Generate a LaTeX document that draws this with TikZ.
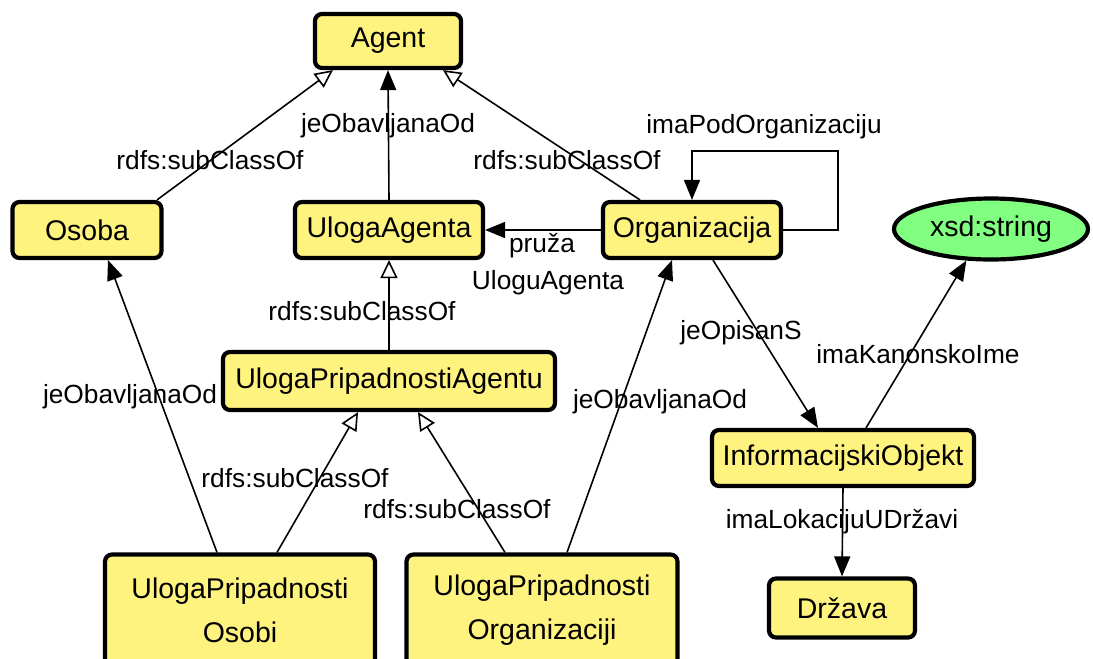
\documentclass[tikz,border=0pt]{standalone}
\usepackage{fontspec}
\setmainfont{Liberation Sans}
\usetikzlibrary{arrows.meta,shapes.geometric,calc}
\definecolor{boxyellow}{RGB}{255,243,128}
\definecolor{ovalgreen}{RGB}{128,255,128}
\begin{document}
\begin{tikzpicture}[x=1pt,y=1pt,
  cls/.style={draw=black,line width=4.2pt,fill=boxyellow,rounded corners=7pt,
    font=\fontsize{28.5}{44}\selectfont,inner sep=0pt,align=center},
  lit/.style={ellipse,draw=black,line width=4.2pt,fill=ovalgreen,
    font=\fontsize{28.5}{34}\selectfont,inner sep=0pt},
  lbl/.style={font=\fontsize{26.3}{30}\selectfont,inner sep=0pt},
  rel/.style={line width=1.6pt,-{Triangle[length=20pt,width=16pt]}},
  sub/.style={line width=1.6pt,-{Triangle[open,length=18pt,width=17pt,line width=1.6pt]}}]
\clip (0,0) rectangle (1093,-659);
% classes
\node[cls,minimum width=146,minimum height=54] (agent) at (388,-41) {Agent};
\node[cls,minimum width=149,minimum height=56] (osoba) at (87,-230) {Osoba};
\node[cls,minimum width=188,minimum height=56] (ua) at (389,-230) {UlogaAgenta};
\node[cls,minimum width=178,minimum height=56] (org) at (692,-230) {Organizacija};
\node[lit,minimum width=194,minimum height=61] (xsd) at (991,-229) {xsd:string};
\node[cls,minimum width=332,minimum height=58] (upa) at (389,-381) {UlogaPripadnostiAgentu};
\node[cls,minimum width=262,minimum height=56] (io) at (843,-458) {InformacijskiObjekt};
\node[cls,minimum width=146,minimum height=59] (drz) at (842,-608) {Država};
\node[cls,minimum width=270,minimum height=111] (upo) at (240,-610) {UlogaPripadnosti\\Osobi};
\node[cls,minimum width=271,minimum height=111] (upor) at (542,-610) {UlogaPripadnosti\\Organizaciji};
% connectors
\draw[sub] ([xshift=70]osoba.north) -- ([xshift=-55]agent.south);
\draw[rel] (ua.north) -- (agent.south);
\draw[sub] ([xshift=-52]org.north) -- ([xshift=55]agent.south);
\draw[rel] (org.west) -- (ua.east);
\draw[rel] (org.east) -- ++(55,0) -- ++(0,79) -| (org.north);
\draw[sub] (upa.north) -- (ua.south);
\draw[rel] ([xshift=-23]upo.north) -- ([xshift=21]osoba.south);
\draw[sub] ([xshift=37]upo.north) -- ([xshift=-31]upa.south);
\draw[sub] ([xshift=-37]upor.north) -- ([xshift=29]upa.south);
\draw[rel] ([xshift=25]upor.north) -- ([xshift=-20]org.south);
\draw[rel] ([xshift=21]org.south) -- ([xshift=-25]io.north);
\draw[rel] ([xshift=23]io.north) -- (xsd.232);
\draw[rel] (io.south) -- (drz.north);
% labels
\node[lbl] (l1) at (388,-126) {jeObavljanaOd};
\node[lbl] (l2) at (210,-160) {rdfs:subClassOf};
\node[lbl] (l3) at (567,-160) {rdfs:subClassOf};
\node[lbl] (l4) at (764,-127) {imaPodOrganizaciju};
\node[lbl] (l5) at (542,-246) {pruža};
\node[lbl] (l6) at (548,-283) {UloguAgenta};
\node[lbl] (l7) at (362,-311) {rdfs:subClassOf};
\node[lbl] (l8) at (130,-397) {jeObavljanaOd};
\node[lbl] (l9) at (295,-478) {rdfs:subClassOf};
\node[lbl] (l10) at (457,-509) {rdfs:subClassOf};
\node[lbl] (l11) at (660,-402) {jeObavljanaOd};
\node[lbl] (l12) at (741,-333) {jeOpisanS};
\node[lbl] (l13) at (918,-354) {imaKanonskoIme};
\node[lbl] (l14) at (842,-522) {imaLokacijuUDržavi};
\end{tikzpicture}
\end{document}
